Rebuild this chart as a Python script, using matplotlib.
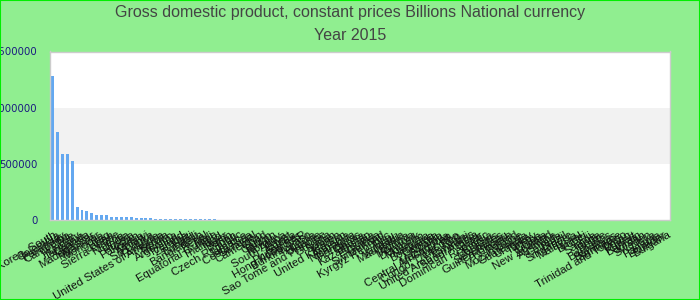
import matplotlib
matplotlib.use("Agg")
import matplotlib.pyplot as plt
from matplotlib.patches import Rectangle

# Countries, ordered by GDP (constant prices, billions of national currency), 2015
countries = [
    "Korea, South", "Colombia", "Paraguay", "Cambodia", "Chile",
    "Hungary", "Tanzania", "Uganda", "Madagascar", "Myanmar",
    "Mongolia", "Iraq", "Japan", "Sierra Leone", "Nigeria",
    "India", "Russia", "Pakistan", "Kenya", "Malawi",
    "Sri Lanka", "Rwanda", "United States of America", "Serbia", "Mexico",
    "Argentina", "Iceland", "Zambia", "Haiti", "Burundi",
    "Bangladesh", "Nepal", "Mali", "Equatorial Guinea", "Thailand",
    "Niger", "Benin", "Togo", "Czech Republic", "Jamaica",
    "Costa Rica", "Senegal", "Cameroon", "Chad", "Gabon",
    "Taiwan", "Norway", "South Africa", "Egypt", "Algeria",
    "Philippines", "Hong Kong SAR", "Burkina Faso", "Angola", "Ukraine",
    "Sao Tome and Principe", "Guyana", "Sudan", "Yemen", "United Kingdom",
    "Armenia", "Nicaragua", "Honduras", "Ghana", "Kazakhstan",
    "Ethiopia", "Guinea", "Switzerland", "Kyrgyz Republic", "Peru",
    "Vanuatu", "Mauritania", "Bolivia", "Moldova", "Denmark",
    "Morocco", "Namibia", "Botswana", "Georgia", "Albania",
    "Macedonia", "Central African Rep.", "Lesotho", "Congo, Dem. Rep.", "Eswatini",
    "United Arab Emirates", "Saudi Arabia", "Qatar", "Dominican Republic", "Tunisia",
    "Mauritius", "Seychelles", "Guinea-Bissau", "Romania", "Poland",
    "Mozambique", "Guatemala", "Uruguay", "Turkey", "China",
    "Croatia", "New Zealand", "Australia", "Canada", "Brazil",
    "Singapore", "Malaysia", "Israel", "Brunei", "Fiji",
    "Samoa", "Tonga", "Belize", "Barbados", "Bahamas",
    "Suriname", "Trinidad and Tobago", "Oman", "Kuwait", "Bahrain",
    "Jordan", "Sweden", "Libya", "Panama", "Ecuador",
    "Bulgaria",
]

gdp = [
    1280000, 780000, 585000, 585000, 523000,
    115000, 90000, 80000, 62000, 45000,
    45000, 45000, 27000, 27000, 27000,
    27000, 27000, 18000, 18000, 18000,
    18000, 11000, 10500, 10000, 9600,
    9300, 9000, 8700, 8400, 8100,
    7800, 7500, 7200, 6900, 4200,
    3900, 3700, 3500, 3300, 3100,
    2900, 2800, 2600, 2500, 2400,
    2300, 2150, 2000, 1900, 1800,
    1700, 1620, 1540, 1460, 1380,
    1300, 1230, 1160, 1100, 1040,
    980, 930, 880, 830, 790,
    750, 710, 670, 630, 600,
    570, 540, 510, 480, 455,
    430, 405, 380, 360, 340,
    320, 300, 285, 270, 255,
    240, 225, 210, 198, 186,
    175, 164, 153, 143, 133,
    124, 115, 107, 99, 92,
    85, 78, 72, 66, 60,
    55, 50, 45, 41, 37,
    33, 29, 26, 23, 20,
    17, 15, 13, 11, 9.5,
    8, 6.5, 5, 3.8, 2.6,
    1.5,
]

y_ticks = [0, 500000, 1000000, 1500000]
y_tick_labels = ["0", "500000", "1000000", "1500000"]

title_lines = [
    "Gross domestic product, constant prices Billions National currency",
    "Year 2015",
]

assert len(countries) == len(gdp)

fig = plt.figure(figsize=(7, 3), dpi=100)
fig.patch.set_facecolor("#90ee90")
fig.patches.append(Rectangle((0, 0), 1, 1, transform=fig.transFigure,
                             fill=False, edgecolor="#00ee00", linewidth=1.5,
                             zorder=10))

ax = fig.add_axes([50 / 700, 80 / 300, 620 / 700, 168.5 / 300])
ax.set_facecolor("white")

x = list(range(len(countries)))
ax.axhspan(500000, 1000000, color="#f2f2f2", zorder=0, linewidth=0)
ax.bar(x, gdp, width=0.6, color="#64a8f0", zorder=2)

ax.set_xlim(-0.5, len(countries) - 0.5)
ax.set_ylim(0, 1500000)

ax.set_yticks(y_ticks)
ax.set_yticklabels(y_tick_labels, color="#1a1a80",
                   fontfamily="DejaVu Sans", fontsize=7.3)
ax.set_xticks(x)
ax.set_xticklabels(countries, rotation=30, ha="right", va="top",
                   rotation_mode="anchor", fontsize=8.2,
                   fontfamily="Liberation Sans", color="#111111")
ax.tick_params(axis="both", length=0)
ax.tick_params(axis="x", pad=7)
ax.tick_params(axis="y", pad=9)

for side in ax.spines.values():
    side.set_color("#cccccc")
    side.set_linewidth(1)

fig.text(0.5, 1 - 13 / 300, title_lines[0], ha="center", va="center",
         fontsize=11.5, color="#444444", fontfamily="Liberation Sans")
fig.text(0.5, 1 - 36 / 300, title_lines[1], ha="center", va="center",
         fontsize=11.5, color="#444444", fontfamily="Liberation Sans")

fig.savefig("out.png", dpi=100, facecolor=fig.get_facecolor())
